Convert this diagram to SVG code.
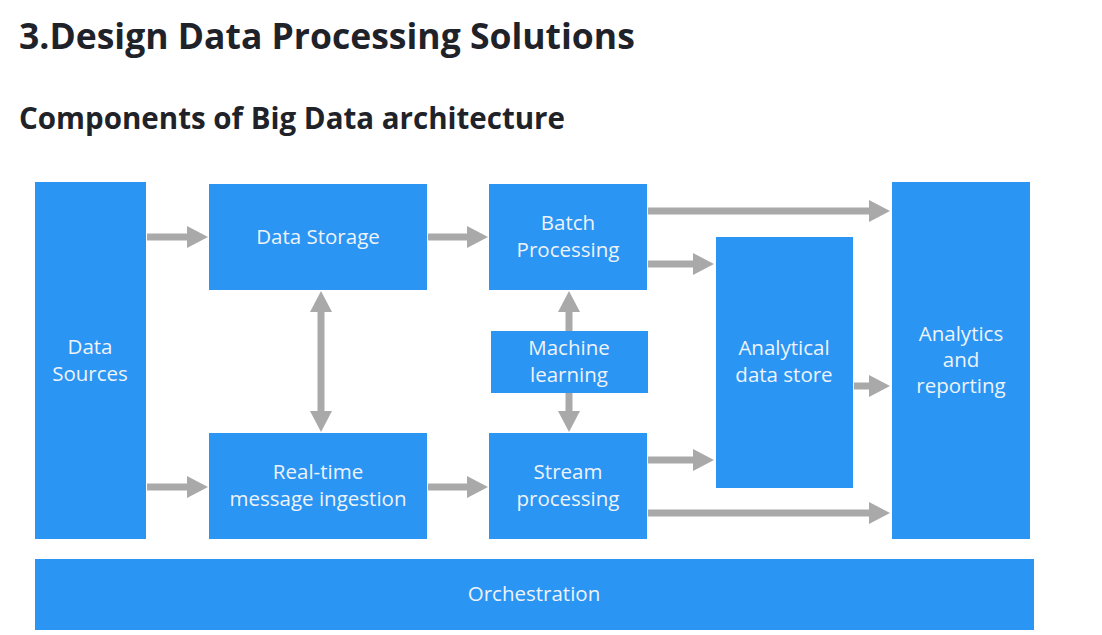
<svg xmlns="http://www.w3.org/2000/svg" width="1102" height="635" viewBox="0 0 1102 635">
<style>
.box{fill:#2a95f3;}
.lbl{font-family:"Open Sans","Noto Sans","DejaVu Sans",sans-serif;font-size:20.5px;font-weight:500;fill:#eef3fa;text-anchor:middle;}
.h1{font-family:"Open Sans","Noto Sans",sans-serif;font-weight:bold;font-size:35.5px;fill:#1f2329;}
.h2{font-family:"Open Sans","Noto Sans",sans-serif;font-weight:bold;font-size:29.5px;fill:#1f2329;}
.arr{stroke:#a9a9a9;stroke-width:7;fill:none;}
</style>
<defs>
<marker id="ah" markerWidth="21" markerHeight="22" refX="1" refY="11" orient="auto-start-reverse" markerUnits="userSpaceOnUse">
<path d="M0,0 L21,11 L0,22 z" fill="#a9a9a9"/>
</marker>
</defs>
<rect width="1102" height="635" fill="#ffffff"/>
<text class="h1" x="19" y="49">3.Design Data Processing Solutions</text>
<text class="h2" x="19" y="129">Components of Big Data architecture</text>

<g id="connectors">
<line class="arr" x1="147" y1="237" x2="188" y2="237" marker-end="url(#ah)"/>
<line class="arr" x1="428" y1="237" x2="468" y2="237" marker-end="url(#ah)"/>
<line class="arr" x1="147" y1="487" x2="188" y2="487" marker-end="url(#ah)"/>
<line class="arr" x1="428" y1="487" x2="468" y2="487" marker-end="url(#ah)"/>
<line class="arr" x1="321" y1="311" x2="321" y2="412" marker-start="url(#ah)" marker-end="url(#ah)"/>
<line class="arr" x1="569" y1="331" x2="569" y2="311" marker-end="url(#ah)"/>
<line class="arr" x1="569" y1="393" x2="569" y2="412" marker-end="url(#ah)"/>
<line class="arr" x1="648" y1="211" x2="870" y2="211" marker-end="url(#ah)"/>
<line class="arr" x1="648" y1="264" x2="694" y2="264" marker-end="url(#ah)"/>
<line class="arr" x1="854" y1="386" x2="870" y2="386" marker-end="url(#ah)"/>
<line class="arr" x1="648" y1="460" x2="694" y2="460" marker-end="url(#ah)"/>
<line class="arr" x1="648" y1="513" x2="870" y2="513" marker-end="url(#ah)"/>
</g>

<g id="data-sources">
<rect class="box" x="35" y="182" width="111" height="357"/>
<text class="lbl" x="90" y="354">Data</text>
<text class="lbl" x="90" y="381">Sources</text>
</g>
<g id="data-storage">
<rect class="box" x="209" y="184" width="218" height="106"/>
<text class="lbl" x="318" y="244">Data Storage</text>
</g>
<g id="batch-processing">
<rect class="box" x="489" y="184" width="158" height="106"/>
<text class="lbl" x="568" y="230">Batch</text>
<text class="lbl" x="568" y="257">Processing</text>
</g>
<g id="machine-learning">
<rect class="box" x="491" y="331" width="157" height="62"/>
<text class="lbl" x="569" y="355">Machine</text>
<text class="lbl" x="569" y="382">learning</text>
</g>
<g id="analytical-data-store">
<rect class="box" x="716" y="237" width="137" height="251"/>
<text class="lbl" x="784" y="355">Analytical</text>
<text class="lbl" x="784" y="382">data store</text>
</g>
<g id="analytics-reporting">
<rect class="box" x="892" y="182" width="138" height="357"/>
<text class="lbl" x="961" y="341">Analytics</text>
<text class="lbl" x="961" y="367">and</text>
<text class="lbl" x="961" y="393">reporting</text>
</g>
<g id="real-time-ingestion">
<rect class="box" x="209" y="433" width="218" height="106"/>
<text class="lbl" x="318" y="479">Real-time</text>
<text class="lbl" x="318" y="506">message ingestion</text>
</g>
<g id="stream-processing">
<rect class="box" x="489" y="433" width="158" height="106"/>
<text class="lbl" x="568" y="479">Stream</text>
<text class="lbl" x="568" y="506">processing</text>
</g>
<g id="orchestration">
<rect class="box" x="35" y="559" width="999" height="71"/>
<text class="lbl" x="534" y="601">Orchestration</text>
</g>
</svg>
